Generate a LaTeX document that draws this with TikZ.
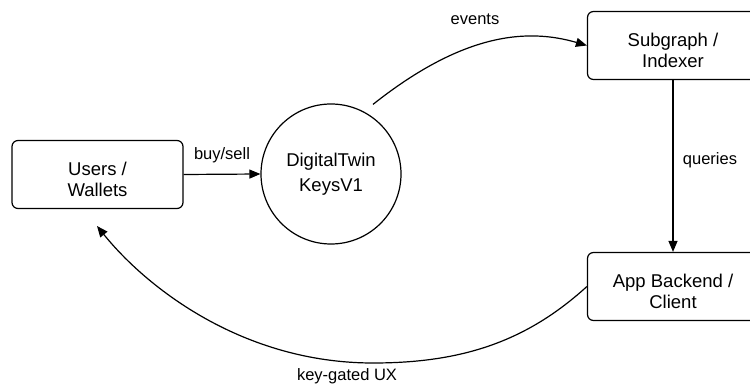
\documentclass[tikz,border=0pt]{standalone}
\usepackage{fontspec}
\setmainfont{Liberation Sans}
\usetikzlibrary{arrows.meta}
\begin{document}
\begin{tikzpicture}[x=1pt,y=-1pt,
  every node/.style={inner sep=0pt},
  boxtext/.style={align=center,font=\fontsize{18.5}{21.5}\selectfont,yshift=-5pt},
  boxnode/.style={draw,line width=1.2pt,rounded corners=6pt,minimum width=171pt,minimum height=68pt,
    label={[boxtext]center:#1}},
  ringnode/.style={draw,circle,line width=1.2pt,minimum size=140pt,align=center,font=\fontsize{18.5}{25}\selectfont},
  flow/.style={line width=1.2pt,-{Triangle[length=11pt,width=9pt]}},
  flowlabel/.style={font=\fontsize{16.5}{20}\selectfont}]
  \useasboundingbox (0,0) rectangle (750,387);
  \clip (0,0) rectangle (750,387);
  \fill[white] (0,0) rectangle (750,387);

  % nodes
  \node[boxnode={Users /\\Wallets}] (users) at (97.5,174.5) {};
  \node[ringnode] (twin) at (331,174) {DigitalTwin\\KeysV1};
  \node[boxnode={Subgraph /\\Indexer}] (subgraph) at (673,45.5) {};
  \node[boxnode={App Backend /\\Client}] (app) at (673,286.5) {};

  % free ends and waypoints of the curved edges
  \coordinate (evstart) at ([xshift=42pt,yshift=-1pt]twin.north);
  \coordinate (uxlow) at (373,363);
  \coordinate (ux) at (97,226);

  % connectors
  \draw[flow] (users.east) -- (twin.west);
  \draw[flow] (evstart) .. controls (463,33) and (527,28) .. (subgraph.west);
  \draw[flow] (subgraph.south) -- (app.north);
  \draw[flow] (app.west) .. controls (527,341) and (463,363) .. (uxlow)
                        .. controls (243,363) and (147,288) .. (ux);

  % labels
  \node[flowlabel] (lbuy) at (222,155) {buy/sell};
  \node[flowlabel] (levents) at (475,19) {events};
  \node[flowlabel] (lqueries) at (710,160) {queries};
  \node[flowlabel] (lux) at (347,376) {key-gated UX};
\end{tikzpicture}
\end{document}
